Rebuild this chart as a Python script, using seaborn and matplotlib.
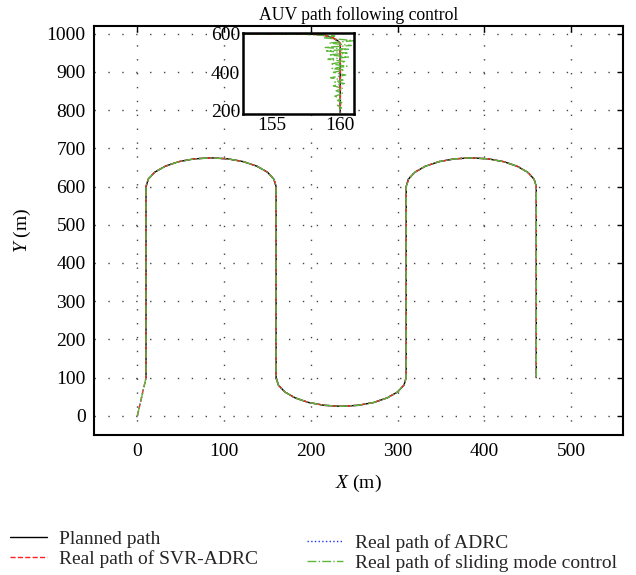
import numpy as np
import matplotlib
matplotlib.use("Agg")
import matplotlib.pyplot as plt
import seaborn as sns

# ---- data ----
# one U-turn of the planned path (offsets from the turn start), read off the top arc
turn_dx = [0, 2.6, 10, 22, 37.5, 55.6, 75, 94.4, 112.5, 128, 140, 147.4, 150]
turn_dy = [0, 19.4, 37.5, 53, 65, 72.4, 75, 72.4, 65, 53, 37.5, 19.4, 0]

# straight legs: x position, low and high end
leg_x = [10, 160, 310, 460]
leg_y_low = 100
leg_y_high = 600

# the real paths start at the origin, the planned one at (10, 100)
start_x = [0, 10]
start_y = [0, 100]

# inset: corner at the top of the second leg, zoomed in
inset_x = [152.9, 155, 157, 158.2, 158.9, 159.4, 159.8, 160, 160, 160]
inset_y = [600, 600, 599.5, 598, 592, 582, 566, 550, 400, 190]
sm_chatter_y = [600, 598, 590, 580, 565, 553, 540, 530, 520, 512, 500, 491, 480, 468,
                456, 444, 432, 420, 412, 400, 386, 372, 360, 350, 342, 330, 316,
                304, 290, 276, 262, 254, 240, 228, 215, 202, 190]
sm_chatter_x = [152.9, 157.5, 159.6, 158.8, 161.0, 159.2, 160.8, 158.9, 160.6, 159.0,
                160.5, 159.2, 160.6, 159.1, 160.4, 159.3, 160.5, 159.4, 160.3, 159.5,
                160.4, 159.3, 160.2, 159.6, 160.3, 159.5, 160.2, 159.7, 160.2, 159.6,
                160.1, 159.8, 160.2, 159.8, 160.1, 159.9, 160.0]

labels = ["Planned path", "Real path of SVR-ADRC", "Real path of ADRC",
          "Real path of sliding mode control"]


def build_path():
    xs, ys = [], []
    up = True
    for i in range(len(leg_x)):
        x0 = leg_x[i]
        y_from, y_to = (leg_y_low, leg_y_high) if up else (leg_y_high, leg_y_low)
        xs += [x0, x0]
        ys += [y_from, y_to]
        if i < len(leg_x) - 1:
            sign = 1 if up else -1
            xs += [x0 + d for d in turn_dx]
            ys += [y_to + sign * d for d in turn_dy]
        up = not up
    return np.array(xs), np.array(ys)


px, py = build_path()
rx = np.concatenate([start_x[:1], px])
ry = np.concatenate([start_y[:1], py])

sns.set_theme(style="white")
plt.rcParams["font.family"] = ["Liberation Serif", "DejaVu Serif"]
plt.rcParams["mathtext.fontset"] = "custom"
plt.rcParams["mathtext.rm"] = "Liberation Serif"
plt.rcParams["mathtext.it"] = "Liberation Serif:italic"

styles = [
    dict(color="black", linestyle="-"),
    dict(color="#ff2020", linestyle="--"),
    dict(color="#2030ff", linestyle=":"),
    dict(color="#5cb83a", linestyle="-."),
]

fig = plt.figure(figsize=(6.36, 5.75), dpi=100)
ax = fig.add_axes([0.1478, 0.2435, 0.8318, 0.7113])

# planned path, then the three real paths on top
sns.lineplot(x=px, y=py, sort=False, estimator=None, lw=1.0, ax=ax, label=labels[0], **styles[0])
sns.lineplot(x=rx, y=ry, sort=False, estimator=None, lw=1.0, ax=ax, label=labels[2], **styles[2])
sns.lineplot(x=rx, y=ry, sort=False, estimator=None, lw=1.0, ax=ax, label=labels[1], **styles[1])
sns.lineplot(x=rx, y=ry, sort=False, estimator=None, lw=1.0, ax=ax, label=labels[3], **styles[3])

ax.set_xlim(-50, 560)
ax.set_ylim(-50, 1020)
ax.set_xticks([0, 100, 200, 300, 400, 500])
ax.set_yticks(range(0, 1001, 100))
ax.grid(True, linestyle=(0, (1, 9)), color="#444444", linewidth=1.0)
ax.tick_params(direction="in", top=True, right=True, labelsize=14, length=4, width=1,
               colors="black", pad=6)
for s in ax.spines.values():
    s.set_color("black")
    s.set_linewidth(1.5)
ax.set_xlabel("$X$ (m)", fontsize=14, color="black", labelpad=9)
ax.set_ylabel("$Y$ (m)", fontsize=14, color="black", labelpad=10)
ax.set_title("AUV path following control", fontsize=12.7, color="black", pad=4)

handles, labs = ax.get_legend_handles_labels()
ax.get_legend().remove()
hmap = dict(zip(labs, handles))
leg_kw = dict(loc="upper left", bbox_transform=fig.transFigure, frameon=False, fontsize=14,
              handlelength=1.9, handletextpad=0.6, labelspacing=0.1, borderpad=0,
              borderaxespad=0)
fig.legend([hmap[l] for l in labels[:2]], labels[:2], bbox_to_anchor=(0.0157, 0.078), **leg_kw)
fig.legend([hmap[l] for l in labels[2:]], labels[2:], bbox_to_anchor=(0.482, 0.071), **leg_kw)

# inset
axi = fig.add_axes([0.382, 0.8017, 0.1745, 0.1409])
axi.set_facecolor("white")
sns.lineplot(x=inset_x, y=inset_y, sort=False, estimator=None, lw=1.0, ax=axi, **styles[0])
sns.lineplot(x=inset_x, y=inset_y, sort=False, estimator=None, lw=1.2, ax=axi, **styles[2])
sns.lineplot(x=inset_x, y=inset_y, sort=False, estimator=None, lw=1.2, ax=axi, **styles[1])
sns.lineplot(x=sm_chatter_x, y=sm_chatter_y, sort=False, estimator=None, lw=1.0, ax=axi, **styles[3])
axi.set_xlim(152.9, 161)
axi.set_ylim(183, 605)
axi.set_xticks([155, 160])
axi.set_yticks([200, 400, 600])
axi.tick_params(direction="in", labelsize=14, length=3, colors="black", pad=2)
for s in axi.spines.values():
    s.set_color("black")
    s.set_linewidth(1.8)

fig.savefig("out.png", dpi=100)
